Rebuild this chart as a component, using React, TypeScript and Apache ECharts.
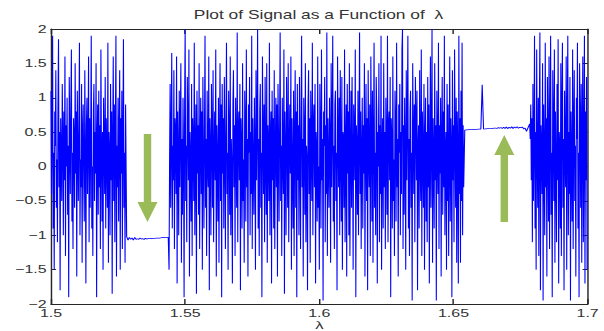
import React, { useEffect, useRef } from 'react';
import * as echarts from 'echarts';

// Reference figure is horizontally stretched; reproduce by scaling the chart in X.
const SX = 1.45;
const W = 604;
const H = 331;

const titleText = 'Plot of Signal as a Function of  λ';
const xTicks = [1.5, 1.55, 1.6, 1.65, 1.7];
const yTicks = [-2, -1.5, -1, -0.5, 0, 0.5, 1, 1.5, 2];

// chaotic band 1.5 .. 1.5278 (step 0.0002)
const chaosA = [
  1.1, -0.4, 0.6, 1.9, -0.9, 0.2, -1.5, 0.8, 0.3, 1.4, -0.6, 0.1, -1.1, 0.9, 1.85, -0.3, 0.5, -1.8, 0.7, 0.2,
  -0.5, 1.2, 0.4, -1.0, 0.8, -0.2, 1.6, -1.3, 0.6, 0.0, 1.0, -0.7, 0.3, -1.9, 1.3, 0.5, -0.4, 0.9, 1.7, -0.8,
  0.2, -1.2, 0.7, 0.4, -0.6, 1.5, -0.1, 0.8, -1.6, 1.1, 0.3, -0.5, 0.6, 1.8, -1.0, 0.1, -0.3, 1.2, -1.4, 0.5,
  0.9, -0.2, -0.8, 1.4, 0.2, -1.7, 0.6, 1.0, -0.4, 0.3, 1.6, -1.1, 0.7, -0.6, 0.4, 1.9, -0.9, 0.0, -1.3, 0.8,
  1.2, -0.5, 0.5, -0.1, 1.5, -1.9, 0.4, 0.9, -0.7, 1.1, -0.3, 0.6, -1.2, 1.7, 0.2, -0.8, 0.5, -1.5, 1.0, 0.3,
  -0.4, 1.3, -0.9, 0.7, 0.1, -0.6, 1.8, -1.4, 0.5, 0.2, -1.0, 1.2, -0.2, 0.8, -1.85, 0.4, 1.6, -0.5, 0.9, -1.1,
  0.6, 1.9, -1.6, 0.3, -0.3, 1.0, -0.8, 0.5, 1.4, -1.5, 0.7, -0.1, 1.1, -1.2, 0.4, 1.85, -0.6, 0.2, -1.4, 0.9,
];

// periodic window near -1.05 (1.5282 .. 1.5437, step 0.0005)
const windowA = [
  -1.02, -1.07, -1.03, -1.06, -1.04, -1.07, -1.03, -1.06, -1.05, -1.06,
  -1.04, -1.055, -1.05, -1.06, -1.045, -1.055, -1.05, -1.05, -1.05, -1.045,
  -1.045, -1.045, -1.04, -1.04, -1.04, -1.04, -1.035, -1.035, -1.03, -1.03,
  -1.03, -1.03,
];

// chaotic band 1.544 .. 1.6538 (step 0.0002)
const chaosB = [
  -1.5, 0.1, 1.2, -0.6, 0.4, 1.65, -0.9, 0.3, -0.2, 1.4, -1.2, 0.7, 0.5, -0.4, 1.6, -1.7, 0.8, 0.2, -1.0, 1.1,
  -0.3, 0.6, 1.5, -1.4, 0.4, -0.7, 1.0, 0.2, -1.9, 0.9, 2.0, -0.5, 0.3, -1.1, 1.3, 0.6, -0.2, 1.7, -1.6, 0.5,
  0.1, -0.8, 1.2, -1.3, 0.7, 0.4, -0.5, 1.8, -1.0, 0.2, 0.9, -1.85, 1.1, -0.1, 0.6, -0.7, 1.5, -1.2, 0.3, 1.0,
  -0.4, 0.8, -1.5, 1.3, 0.2, -0.9, 0.5, 1.9, -0.6, 0.4, -1.3, 1.1, 0.0, -0.3, 1.6, -1.8, 0.7, 0.3, -1.0, 1.2,
  0.5, -0.6, 1.4, -1.1, 0.2, 0.8, -0.2, 1.7, -1.6, 0.6, 0.1, -0.8, 1.0, -1.4, 0.4, 1.5, -0.5, 0.9, -1.9, 1.2,
  -0.1, 0.7, -0.9, 1.3, 0.3, -1.2, 0.6, 1.8, -0.4, 0.2, -1.5, 1.1, 0.5, -0.7, 1.6, -1.0, 0.4, 0.0, -1.7, 0.9,
  1.4, -0.3, 0.6, -1.3, 1.0, 0.2, -0.6, 1.95, -1.1, 0.5, 0.8, -0.2, 1.2, -1.8, 0.7, 0.3, -0.9, 1.5, -0.5, 0.1,
  -1.4, 1.1, 0.6, -0.8, 1.7, -0.3, 0.4, -1.6, 0.9, 0.2, 1.3, -1.0, 0.5, -0.4, 1.9, -1.2, 0.7, 0.0, -0.7, 1.0,
  0.3, -1.5, 1.4, -0.2, 0.6, 2.0, -0.9, 0.4, -1.3, 0.8, 1.2, -0.6, 0.2, -1.9, 1.6, 0.5, -0.4, 0.9, -1.1, 1.3,
  0.1, -0.7, 1.5, -1.4, 0.6, 0.3, -0.5, 1.8, -1.0, 0.4, 0.8, -1.7, 1.1, -0.2, 0.7, -0.9, 1.4, -1.2, 0.2, 1.0,
  -0.3, 0.9, -1.6, 1.2, 0.4, -0.8, 0.6, 1.95, -0.5, 0.3, -1.3, 1.0, 0.1, -0.4, 1.7, -1.85, 0.8, 0.2, -1.0, 1.3,
  0.5, -0.6, 1.5, -1.1, 0.3, 0.9, -0.1, 1.6, -1.5, 0.7, 0.0, -0.9, 1.1, -1.3, 0.4, 1.4, -0.6, 0.8, -1.9, 1.2,
  -0.2, 0.6, -1.0, 1.3, 0.2, -1.2, 0.7, 1.9, -0.3, 0.4, -1.6, 1.0, 0.5, -0.7, 1.5, -1.1, 0.3, 0.1, -1.8, 0.9,
  1.4, -0.4, 0.7, -1.4, 1.1, 0.3, -0.5, 1.8, -1.0, 0.6, 0.9, -0.3, 1.2, -1.7, 0.5, 0.2, -0.8, 1.6, -0.6, 0.0,
  -1.5, 1.2, 0.5, -0.9, 1.7, -0.2, 0.4, -1.95, 0.8, 0.3, 1.3, -1.1, 0.6, -0.4, 1.95, -1.3, 0.7, 0.1, -0.6, 1.0,
  0.4, -1.4, 1.5, -0.3, 0.6, 1.9, -0.8, 0.3, -1.2, 0.9, 1.1, -0.5, 0.2, -1.8, 1.6, 0.4, -0.3, 1.0, -1.0, 1.4,
  0.2, -0.8, 1.3, -1.5, 0.5, 0.4, -0.6, 1.7, -1.1, 0.3, 0.9, -1.6, 1.2, -0.1, 0.8, -1.0, 1.5, -1.3, 0.1, 1.1,
  -0.6, 1.3, 0.1, -1.5, 0.9, 0.5, -0.2, 1.7, -1.9, 0.6, 0.3, -0.7, 1.1, -1.0, 0.4, 1.95, -0.4, 0.8, -1.2, 0.2,
  1.0, -0.9, 0.6, -0.1, 1.5, -1.6, 0.3, 1.2, -0.5, 0.7, -1.8, 1.4, 0.2, -0.3, 0.9, -1.3, 1.6, 0.5, -0.8, 1.1,
  -1.4, 0.4, 1.8, -0.6, 0.2, -1.0, 1.3, 0.8, -1.7, 0.5, 0.0, 1.5, -1.1, 0.6, -0.4, 1.9, -1.5, 0.3, 0.7, -0.9,
  1.5, -0.3, 0.5, -1.2, 1.0, 0.3, -0.7, 1.9, -1.1, 0.6, 0.8, -0.2, 1.3, -1.9, 0.7, 0.4, -0.9, 1.6, -0.5, 0.1,
  -1.3, 1.1, 0.6, -0.8, 1.8, -0.3, 0.4, -1.6, 0.9, 0.2, 1.2, -1.0, 0.5, -0.4, 1.7, 2.0, -1.2, 0.6, -0.7, 1.0,
  0.3, -1.5, 1.4, -0.2, 0.7, 1.9, -0.9, 0.4, -1.3, 0.8, 1.1, -0.6, 0.2, -1.95, 1.5, 0.5, -0.4, 0.9, -1.1, 1.3,
  0.7, -0.2, 1.1, -1.8, 0.3, 0.6, -0.9, 1.4, 0.0, -0.5, 1.7, -1.3, 0.8, 0.2, -0.6, 1.2, -1.5, 0.4, 1.0, -0.8,
  0.5, -1.1, 1.3, -0.3, 0.9, -1.7, 0.2, 1.6, -0.6, 0.4, 2.0, -1.4, 0.7, 0.1, -0.9, 1.5, -0.2, 0.6, -1.95, 1.1,
  0.3, -0.4, 1.8, -1.2, 0.6, -0.1, 1.0, -1.6, 0.4, 1.3, -0.7, 0.8, -0.3, 1.9, -1.0, 0.2, 0.5, -1.5, 1.2, -0.5,
  0.9, -1.3, 0.1, 1.6, -0.8, 0.7, 0.3, -1.9, 1.4, -0.2, 0.6, -1.1, 1.7, 0.4, -0.6, 1.0, -1.4, 0.8, 0.2, -1.7,
  1.9, -0.4, 0.7, -1.4, 1.1, -0.5, 1.8, -1.0, 0.6, -0.3,
];

// periodic window near 0.55 with spike (1.6542 .. 1.6772, step 0.0005)
const windowB = [
  0.53, 0.532, 0.534, 0.535, 0.536, 0.537, 0.538, 0.539, 0.54, 0.541,
  0.542, 0.543, 0.544, 1.19, 0.545, 0.546, 0.548, 0.55, 0.552, 0.553,
  0.555, 0.556, 0.558, 0.56, 0.552, 0.566, 0.556, 0.568, 0.554, 0.57,
  0.552, 0.575, 0.55, 0.572, 0.556, 0.578, 0.553, 0.574, 0.56, 0.58,
  0.555, 0.57, 0.565, 0.575, 0.545, 0.56, 0.51,
];

// chaotic band 1.6784 .. 1.6998 (step 0.0002)
const chaosC = [
  0.62, 0.4, 0.9, -0.2, 0.7, -1.1, 1.2, -0.5, 0.3, 1.9, -0.9, 0.5, -1.5, 1.7, 0.2, -0.6, 1.0, -1.3, 0.8, 1.95,
  -1.8, 0.6, 0.3, -0.4, 1.5, -1.95, 0.9, 0.1, -1.0, 1.8, -0.3, 0.7, -1.6, 1.3, 0.4, -0.8, 1.6, -1.2, 0.5, 1.9,
  -0.7, 0.2, -1.9, 1.4, 0.6, -0.5, 1.7, -1.4, 0.8, 0.0, -1.1, 1.2, -0.2, 1.85, -1.7, 0.5, 0.3, -0.9, 1.5, -1.3,
  0.9, 1.8, -0.6, 0.4, -1.8, 1.1, 0.2, -0.3, 1.6, -1.5, 0.7, 1.9, -1.0, 0.5, -0.4, 1.3, -1.95, 0.8, 0.1, -0.8,
  1.7, -1.2, 0.6, 1.4, -0.5, 0.3, -1.6, 1.0, 0.4, 1.8, -0.9, 0.2, -1.9, 1.5, 0.7, -0.6, 1.2, -1.4, 0.5, 1.6,
  -1.1, 0.3, 1.9, -1.7, 0.8, -0.2, 1.3, -1.5,
];

const seg = (start: number, step: number, vals: number[]) =>
  vals.map((v, i) => [+(start + i * step).toFixed(5), v]);

const signal = [
  ...seg(1.5, 0.0002, chaosA),
  ...seg(1.5282, 0.0005, windowA),
  ...seg(1.544, 0.0002, chaosB),
  ...seg(1.6542, 0.0005, windowB),
  ...seg(1.6784, 0.0002, chaosC),
];

const AX = '#262626';
const TXT = '#333333';
const GREEN = '#9BBB59';
const FONT = 'Liberation Sans, Arial, sans-serif';

function arrow(xc: number, tail: number, base: number, tip: number) {
  const sw = 3.7;
  const hw = 10;
  const pts = [
    [xc - sw, tail], [xc + sw, tail], [xc + sw, base], [xc + hw, base],
    [xc, tip], [xc - hw, base], [xc - sw, base],
  ];
  return pts.map(([x, y]) => [x / SX, y]);
}

export default function App() {
  const ref = useRef<HTMLDivElement>(null);
  useEffect(() => {
    document.body.style.margin = '0';
    const chart = echarts.init(ref.current as HTMLDivElement, null, { renderer: 'svg' });
    const xFmt = (v: number) => String(+v.toFixed(2));
    const yFmt = (v: number) => (v < 0 ? '\u2212' : '') + String(Math.abs(+v.toFixed(2)));
    const baseX = {
      type: 'value',
      min: xTicks[0],
      max: xTicks[xTicks.length - 1],
      interval: 0.05,
      splitLine: { show: false },
      axisLine: { show: true, onZero: false, lineStyle: { color: AX, width: 1 } },
      axisTick: { show: true, inside: true, length: 5, lineStyle: { color: AX } },
    };
    const baseY = {
      type: 'value',
      min: yTicks[0],
      max: yTicks[yTicks.length - 1],
      interval: 0.5,
      splitLine: { show: false },
      axisLine: { show: true, onZero: false, lineStyle: { color: AX, width: 1 } },
      axisTick: { show: true, inside: true, length: 3.5, lineStyle: { color: AX } },
    };
    chart.setOption({
      animation: false,
      backgroundColor: '#ffffff',
      title: {
        text: titleText,
        left: 318.5 / SX,
        textAlign: 'center',
        top: 9,
        padding: 0,
        textStyle: { fontFamily: FONT, fontSize: 12, fontWeight: 'normal', color: TXT },
      },
      grid: {
        left: 51 / SX,
        right: (W - 587) / SX,
        top: 29,
        bottom: H - 304,
        containLabel: false,
        outerBoundsMode: 'none',
      },
      xAxis: [
        {
          ...baseX,
          position: 'bottom',
          name: 'λ',
          nameLocation: 'middle',
          nameGap: 21,
          nameMoveOverlap: false,
          nameTextStyle: { fontFamily: FONT, fontSize: 11.5, color: TXT, verticalAlign: 'middle', lineHeight: 10 },
          axisLabel: { show: true, margin: 4.5, fontSize: 11, lineHeight: 9, color: TXT, fontFamily: FONT, formatter: xFmt },
        },
        { ...baseX, position: 'top', axisLabel: { show: false } },
      ],
      yAxis: [
        {
          ...baseY,
          position: 'left',
          axisLabel: { show: true, margin: 3, fontSize: 11, lineHeight: 8, color: TXT, fontFamily: FONT, formatter: yFmt },
        },
        { ...baseY, position: 'right', axisLabel: { show: false } },
      ],
      series: [
        {
          type: 'line',
          xAxisIndex: 0,
          yAxisIndex: 0,
          data: signal,
          showSymbol: false,
          symbol: 'none',
          lineStyle: { color: '#0000ff', width: 0.75 },
          emphasis: { disabled: true },
          silent: true,
        },
      ],
      graphic: [
        { type: 'polygon', shape: { points: arrow(147.5, 134, 202, 222) }, style: { fill: GREEN }, z: 100 },
        { type: 'polygon', shape: { points: arrow(504.3, 222, 155, 135) }, style: { fill: GREEN }, z: 100 },
      ],
    });
    return () => chart.dispose();
  }, []);
  return (
    <div style={{ position: 'fixed', left: 0, top: 0, width: W, height: H, overflow: 'hidden', background: '#fff' }}>
      <div ref={ref} style={{ width: W / SX, height: H, transform: `scaleX(${SX})`, transformOrigin: '0 0' }} />
    </div>
  );
}
